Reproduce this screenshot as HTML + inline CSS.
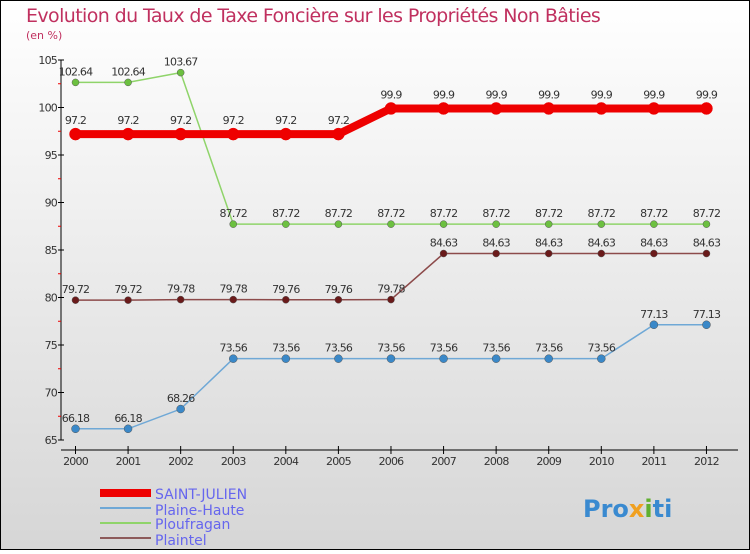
<!DOCTYPE html>
<html><head><meta charset="utf-8"><style>
body{margin:0;width:750px;height:550px;overflow:hidden;font-family:"DejaVu Sans","Liberation Sans",sans-serif}
svg text{font-family:"DejaVu Sans","Liberation Sans",sans-serif}
</style></head><body>
<svg id="c" width="750" height="550" xmlns="http://www.w3.org/2000/svg">
<defs><linearGradient id="bg" x1="0" y1="0" x2="0" y2="1"><stop offset="0" stop-color="#ffffff"/><stop offset="1" stop-color="#d6d6d6"/></linearGradient></defs>
<rect x="0.5" y="0.5" width="749" height="549" fill="url(#bg)" stroke="#000"/>
<text x="26" y="22" font-size="19" fill="#c0305f" letter-spacing="-0.6">Evolution du Taux de Taxe Foncière sur les Propriétés Non Bâties</text>
<text x="26" y="39" font-size="11" fill="#c0305f">(en %)</text>
<g id="axes"></g><g id="series"></g>
<g>
<rect x="100" y="489" width="51" height="8" fill="#e00"/>
<text x="155" y="499" font-size="14" fill="#6666ee">SAINT-JULIEN</text>
<line x1="100" y1="508" x2="151" y2="508" stroke="#6fa8d6" stroke-width="2"/>
<text x="155" y="515" font-size="14" fill="#6666ee">Plaine-Haute</text>
<line x1="100" y1="523" x2="151" y2="523" stroke="#8fd46a" stroke-width="2"/>
<text x="155" y="529" font-size="14" fill="#6666ee">Ploufragan</text>
<line x1="100" y1="538" x2="151" y2="538" stroke="#8c5a5a" stroke-width="2"/>
<text x="155" y="545" font-size="14" fill="#6666ee">Plaintel</text>
</g>
<text x="583" y="517" font-size="24" font-weight="bold" fill="#3a8ad0">Pro<tspan fill="#f0a020">x</tspan><tspan fill="#60b030">i</tspan>ti</text>
</svg>
<script>
const years=[2000,2001,2002,2003,2004,2005,2006,2007,2008,2009,2010,2011,2012];
const yTicks=[65,70,75,80,85,90,95,100,105];
const saintJulien=[97.2,97.2,97.2,97.2,97.2,97.2,99.9,99.9,99.9,99.9,99.9,99.9,99.9];
const plaineHaute=[66.18,66.18,68.26,73.56,73.56,73.56,73.56,73.56,73.56,73.56,73.56,77.13,77.13];
const ploufragan=[102.64,102.64,103.67,87.72,87.72,87.72,87.72,87.72,87.72,87.72,87.72,87.72,87.72];
const plaintel=[79.72,79.72,79.78,79.78,79.76,79.76,79.78,84.63,84.63,84.63,84.63,84.63,84.63];
const NS='http://www.w3.org/2000/svg';
function X(i){return 75.5+i*52.58;}
function Y(v){return 440-(v-65)*9.5;}
function mk(p,t,a){const e=document.createElementNS(NS,t);for(const k in a)e.setAttribute(k,a[k]);p.appendChild(e);return e;}
const ax=document.getElementById('axes'),sg=document.getElementById('series');
let l=mk(ax,'line',{x1:61,y1:Y(105),x2:61,y2:Y(65),stroke:'#000'});


l=mk(ax,'line',{x1:61,y1:450,x2:738,y2:450,stroke:'#000'});


yTicks.forEach(v=>{mk(ax,'line',{x1:58,y1:Y(v),x2:64,y2:Y(v),stroke:'#000'});
 const t=mk(ax,'text',{x:57,y:Y(v)+4,'font-size':11,'text-anchor':'end',fill:'#333','letter-spacing':'-0.8'});t.textContent=v;
 
 
 if(v<105)mk(ax,'line',{x1:58,y1:Y(v+2.5),x2:61,y2:Y(v+2.5),stroke:'#e00'});});
years.forEach((y,i)=>{mk(ax,'line',{x1:X(i),y1:446,x2:X(i),y2:454,stroke:'#000'});
 const t=mk(ax,'text',{x:X(i),y:465,'font-size':11,'text-anchor':'middle',fill:'#333','letter-spacing':'-0.8'});t.textContent=y;
 
 });
function series(d,col,w,r,name,fill){
 const pl=mk(sg,'polyline',{points:d.map((v,i)=>X(i)+','+Y(v)).join(' '),fill:'none',stroke:col,'stroke-width':w});
 
 
 d.forEach((v,i)=>{const c=mk(sg,'circle',{cx:X(i),cy:Y(v),r:r,fill:fill,stroke:w>4?fill:'#555','stroke-width':0.5});
  
  
  const t=mk(sg,'text',{x:X(i),y:Y(v)-(w>4?10:7),'font-size':11,'text-anchor':'middle',fill:'#333','letter-spacing':'-0.8'});t.textContent=String(v);
  
  });}
series(plaineHaute,'#6fa8d6',1.5,4,'plaine-haute','#3a88c8');
series(plaintel,'#8c4a4a',1.5,3.5,'plaintel','#6a1a1a');
series(ploufragan,'#8fd46a',1.5,3.5,'ploufragan','#6cc040');
series(saintJulien,'#e00',8,6,'saint-julien','#e00');
</script>
</body></html>
